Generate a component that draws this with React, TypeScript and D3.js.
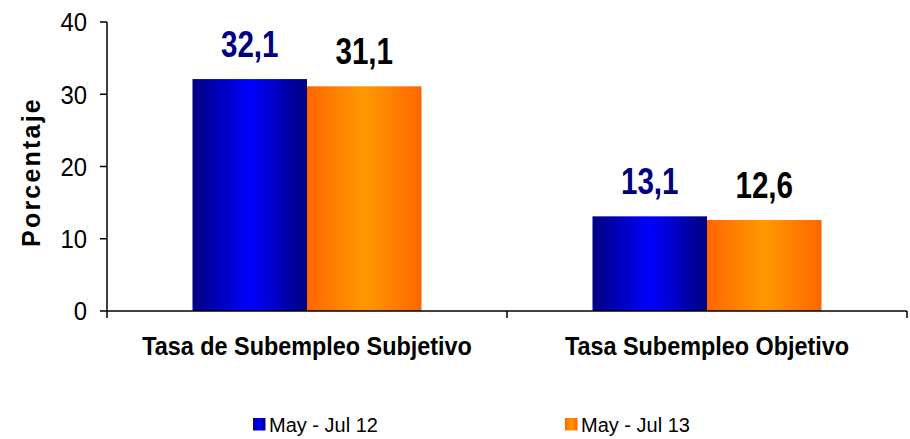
import React from "react";
import * as d3 from "d3";

const categories = ["Tasa de Subempleo Subjetivo", "Tasa Subempleo Objetivo"];
const seriesNames = ["May - Jul 12", "May - Jul 13"];
const may12 = [32.1, 13.1];
const may13 = [31.1, 12.6];
const yTicks = [0, 10, 20, 30, 40];

function Chart() {
  const ref = React.useRef<SVGSVGElement>(null);
  const width = 910;
  const height = 439;

  React.useEffect(() => {
    const svg = d3.select(ref.current);
    svg.selectAll("*").remove();

    const left = 107;
    const right = 907;
    const top = 22;
    const bottom = 311;

    //gradientes das barras
    const defs = svg.append("defs");
    const grads = [
      { id: "gBlue", edge: "#000080", mid: "#0000ff" },
      { id: "gOrange", edge: "#ff6600", mid: "#ff9900" },
    ];
    grads.forEach((g) => {
      const lg = defs
        .append("linearGradient")
        .attr("id", g.id)
        .attr("x1", "0%")
        .attr("x2", "100%")
        .attr("y1", "0%")
        .attr("y2", "0%");
      lg.append("stop").attr("offset", "0%").attr("stop-color", g.edge);
      lg.append("stop").attr("offset", "50%").attr("stop-color", g.mid);
      lg.append("stop").attr("offset", "100%").attr("stop-color", g.edge);
    });

    const xScale = d3.scaleBand().domain(categories).range([left, right]).padding(0);
    const gap = xScale.bandwidth() * 0.21375;
    const xSub = d3
      .scaleBand()
      .domain(seriesNames)
      .range([gap, xScale.bandwidth() - gap])
      .padding(0);
    const yScale = d3.scaleLinear().domain([0, 40]).range([bottom, top]);

    const rows = categories.map((c, i) => ({ cat: c, values: [may12[i], may13[i]] }));

    const group = svg
      .selectAll("g.cat")
      .data(rows)
      .enter()
      .append("g")
      .attr("class", "cat")
      .attr("transform", (d) => `translate(${xScale(d.cat)}, 0)`);

    group
      .selectAll("rect")
      .data((d) => d.values.map((v, i) => ({ v, s: seriesNames[i], i })))
      .enter()
      .append("rect")
      .attr("x", (d) => xSub(d.s)!)
      .attr("y", (d) => yScale(d.v))
      .attr("width", xSub.bandwidth())
      .attr("height", (d) => yScale(0) - yScale(d.v))
      .attr("fill", (d) => (d.i === 0 ? "url(#gBlue)" : "url(#gOrange)"));

    group
      .selectAll("text.val")
      .data((d) => d.values.map((v, i) => ({ v, s: seriesNames[i], i })))
      .enter()
      .append("text")
      .attr("class", "val")
      .attr(
        "transform",
        (d) =>
          `translate(${xSub(d.s)! + xSub.bandwidth() / 2}, ${yScale(d.v) - 22}) scale(0.8, 1)`
      )
      .attr("text-anchor", "middle")
      .style("font-family", "'Liberation Sans', Arial, sans-serif")
      .style("font-weight", "bold")
      .style("font-size", "37px")
      .style("fill", (d) => (d.i === 0 ? "#000080" : "#000000"))
      .text((d) => d3.format(".1f")(d.v).replace(".", ","));

    //eixo y
    const yAxis = svg.append("g");
    yAxis
      .append("line")
      .attr("x1", left)
      .attr("x2", left)
      .attr("y1", yScale(40))
      .attr("y2", yScale(0))
      .attr("stroke", "#000")
      .attr("stroke-width", 1.5);
    yAxis
      .selectAll("line.tick")
      .data(yTicks)
      .enter()
      .append("line")
      .attr("class", "tick")
      .attr("x1", left - 7)
      .attr("x2", left)
      .attr("y1", (d) => yScale(d))
      .attr("y2", (d) => yScale(d))
      .attr("stroke", "#000")
      .attr("stroke-width", 1.5);
    yAxis
      .selectAll("text")
      .data(yTicks)
      .enter()
      .append("text")
      .attr("transform", (d) => `translate(87, ${yScale(d)}) scale(0.92, 1)`)
      .attr("dy", "0.36em")
      .attr("text-anchor", "end")
      .style("font-family", "'Liberation Sans', Arial, sans-serif")
      .style("font-size", "26px")
      .style("fill", "#000")
      .text((d) => d);

    svg
      .append("text")
      .attr("transform", `translate(40, 172) rotate(-90)`)
      .attr("text-anchor", "middle")
      .style("font-family", "'Liberation Sans', Arial, sans-serif")
      .style("font-weight", "bold")
      .style("font-size", "25px")
      .style("letter-spacing", "2.2px")
      .style("fill", "#000")
      .text("Porcentaje");

    //eixo x
    const xAxis = svg.append("g");
    xAxis
      .append("line")
      .attr("x1", left)
      .attr("x2", right)
      .attr("y1", bottom)
      .attr("y2", bottom)
      .attr("stroke", "#000")
      .attr("stroke-width", 1.5);
    const bounds = [left, ...categories.map((c) => xScale(c)! + xScale.bandwidth())];
    xAxis
      .selectAll("line.tick")
      .data(bounds)
      .enter()
      .append("line")
      .attr("class", "tick")
      .attr("x1", (d) => d)
      .attr("x2", (d) => d)
      .attr("y1", bottom)
      .attr("y2", bottom + 7)
      .attr("stroke", "#000")
      .attr("stroke-width", 1.5);
    xAxis
      .selectAll("text")
      .data(categories)
      .enter()
      .append("text")
      .attr(
        "transform",
        (d) => `translate(${xScale(d)! + xScale.bandwidth() / 2}, 355) scale(0.9, 1)`
      )
      .attr("text-anchor", "middle")
      .style("font-family", "'Liberation Sans', Arial, sans-serif")
      .style("font-weight", "bold")
      .style("font-size", "26px")
      .style("fill", "#000")
      .text((d) => d);

    //legenda
    const legendX = [253, 565];
    const legend = svg
      .selectAll("g.legend")
      .data(seriesNames)
      .enter()
      .append("g")
      .attr("class", "legend")
      .attr("transform", (d, i) => `translate(${legendX[i]}, 418)`);
    legend
      .append("rect")
      .attr("width", 12.5)
      .attr("height", 12.5)
      .attr("fill", (d, i) => (i === 0 ? "url(#gBlue)" : "url(#gOrange)"));
    legend
      .append("text")
      .attr("x", 16)
      .attr("y", 14)
      .style("font-family", "'Liberation Sans', Arial, sans-serif")
      .style("font-size", "20px")
      .style("fill", "#000")
      .text((d) => d);
  }, []);

  return (
    <svg
      ref={ref}
      width={width}
      height={height}
      style={{ position: "absolute", left: 0, top: 0, background: "#fff" }}
    />
  );
}

export default function App() {
  return <Chart />;
}
